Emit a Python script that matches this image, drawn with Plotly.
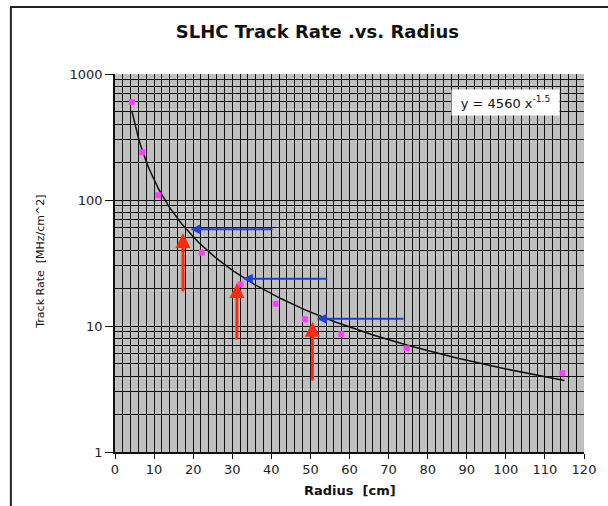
import numpy as np
import plotly.graph_objects as go

# ---- data ----
radius = [4.3, 7.0, 11.1, 22.2, 32.1, 41.1, 48.6, 57.9, 74.6, 114.5]
track_rate = [600, 239, 109, 38.2, 21.4, 15.0, 11.3, 8.6, 6.65, 4.22]

# power-law trendline coefficients shown on the chart: y = 4560 x^-1.5
fit_coef = 4560
fit_exp = -1.5
fit_x_range = [4.3, 115.0]

x_ticks = [0, 10, 20, 30, 40, 50, 60, 70, 80, 90, 100, 110, 120]
y_ticks = [1, 10, 100, 1000]

# arrows (data coordinates: radius, track rate)
red_arrows = [  # (x, tail_rate, tip_rate)
    (17.4, 18.3, 54.7),
    (31.2, 7.6, 21.9),
    (50.5, 3.6, 10.8),
]
blue_arrows = [  # (rate, tail_x, tip_x)
    (58.5, 40.7, 19.3),
    (23.7, 54.7, 32.7),
    (11.4, 74.2, 51.6),
]

title_text = "SLHC Track Rate .vs. Radius"
x_title = "Radius  [cm]"
y_title = "Track Rate  [MHz/cm^2]"

# ---- figure ----
fig = go.Figure()

fit_x = np.linspace(fit_x_range[0], fit_x_range[1], 200)
fit_y = fit_coef * fit_x ** fit_exp
fig.add_trace(go.Scatter(x=fit_x, y=fit_y, mode="lines",
                         line=dict(color="#111111", width=1.5),
                         hoverinfo="skip", showlegend=False))
fig.add_trace(go.Scatter(x=radius, y=track_rate, mode="markers",
                         marker=dict(symbol="square", size=6, color="#FF3CFF",
                                     line=dict(width=0)),
                         showlegend=False))

annotations = []
for x, y0, y1 in red_arrows:
    annotations.append(dict(x=x, y=np.log10(y1), ax=x, ay=np.log10(y0),
                            xref="x", yref="y", axref="x", ayref="y",
                            text="", showarrow=True, arrowhead=2, arrowsize=1,
                            arrowwidth=3, arrowcolor="#FF2A0A", standoff=0))
for y, x0, x1 in blue_arrows:
    annotations.append(dict(x=x1, y=np.log10(y), ax=x0, ay=np.log10(y),
                            xref="x", yref="y", axref="x", ayref="y",
                            text="", showarrow=True, arrowhead=2, arrowsize=1,
                            arrowwidth=2, arrowcolor="#1F40D8", standoff=0))

annotations.append(dict(
    x=0.832, y=0.925, xref="paper", yref="paper",
    xanchor="center", yanchor="middle",
    text=f"y = {fit_coef} x<sup>{fit_exp}</sup>", showarrow=False,
    bgcolor="white", width=107, height=25, borderpad=0,
    font=dict(family="DejaVu Sans", size=13, color="#111111")))
annotations.append(dict(
    x=-0.158, y=0.503, xref="paper", yref="paper", textangle=-90,
    xanchor="center", yanchor="middle",
    text=y_title, showarrow=False,
    font=dict(family="DejaVu Sans", size=11, color="#111111")))
annotations.append(dict(
    x=0.5, y=-0.103, xref="paper", yref="paper",
    xanchor="center", yanchor="middle",
    text=f"<b>{x_title}</b>", showarrow=False,
    font=dict(family="DejaVu Sans", size=13, color="#111111")))

fig.update_layout(
    width=608, height=506,
    margin=dict(l=115, r=16, t=74, b=54),
    paper_bgcolor="white",
    plot_bgcolor="#C0C0C0",
    title=dict(text=f"<b>{title_text}</b>", x=0.522, xanchor="center",
               y=0.937, yanchor="middle",
               font=dict(family="DejaVu Sans", size=18, color="#111111")),
    annotations=annotations,
    shapes=[dict(type="path", xref="paper", yref="paper",
                 path="M 1.1,1.177 L -0.222,1.177 L -0.222,-0.25",
                 line=dict(color="#222222", width=2))],
)

fig.update_xaxes(range=[0, 120], tickvals=x_ticks, ticks="outside", ticklen=5,
                 tickcolor="#111111", showline=True, linecolor="#111111",
                 linewidth=1.5, mirror=False,
                 showgrid=True, gridcolor="#111111", gridwidth=1.4,
                 minor=dict(dtick=2, showgrid=True, gridcolor="#111111",
                            gridwidth=1.4),
                 tickfont=dict(family="DejaVu Sans", size=13, color="#222222"),
                 zeroline=False)
fig.update_yaxes(type="log", range=[0, 3], tickvals=y_ticks,
                 ticks="outside", ticklen=8, tickcolor="#111111",
                 showline=True, linecolor="#111111", linewidth=1.5,
                 showgrid=True, gridcolor="#111111", gridwidth=1.4,
                 minor=dict(dtick="D1", showgrid=True, gridcolor="#111111",
                            gridwidth=1.4),
                 tickfont=dict(family="DejaVu Sans", size=13, color="#222222"),
                 zeroline=False)

fig.write_html("out.html")
